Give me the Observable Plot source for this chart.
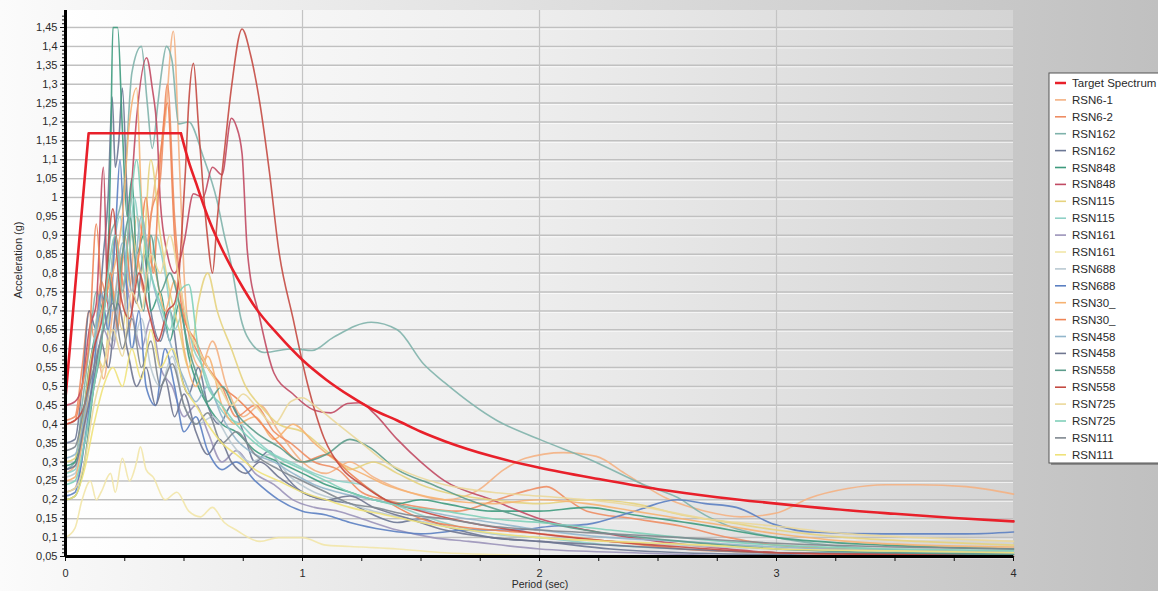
<!DOCTYPE html>
<html><head><meta charset="utf-8">
<script src="https://cdn.jsdelivr.net/npm/d3@7"></script>
<script src="https://cdn.jsdelivr.net/npm/@observablehq/plot@0.6"></script>
<style>html,body{margin:0;padding:0;background:#fff;overflow:hidden}svg{display:block}</style>
</head><body><div id="chart"></div>
<script>
// ---------------- data ----------------
const seriesNames = ["Target Spectrum","RSN6-1","RSN6-2","RSN162","RSN162","RSN848","RSN848","RSN115","RSN115","RSN161","RSN161","RSN688","RSN688","RSN30_","RSN30_","RSN458","RSN458","RSN558","RSN558","RSN725","RSN725","RSN111","RSN111"];
const seriesColors = ["#e8202a","#f4b183","#ee8d63","#7fb2ab","#6b7795","#3e9b7e","#c14a63","#e6d37e","#8fd0c6","#9b93b9","#f2e6a8","#b9c9d2","#5b80c2","#f6b272","#ef8455","#92b6cb","#6f7690","#5c9c8b","#c44a42","#ebd89a","#80d0b9","#7f878f","#efe27a"];
const yTicks = [0.05,0.1,0.15,0.2,0.25,0.3,0.35,0.4,0.45,0.5,0.55,0.6,0.65,0.7,0.75,0.8,0.85,0.9,0.95,1,1.05,1.1,1.15,1.2,1.25,1.3,1.35,1.4,1.45];
const xTicks = [0,1,2,3,4];
const xMinorTicks = [0,0.25,0.5,0.75,1,1.25,1.5,1.75,2,2.25,2.5,2.75,3,3.25,3.5,3.75,4];

// [period (s), acceleration (g)]
const targetRamp = [[0,0.47],[0.0975,1.17],[0.487,1.17]];
const targetDecay = [[0.487,1.17],[0.52,1.095],[0.55,1.04],[0.6,0.95],[0.65,0.877],[0.7,0.815],[0.75,0.76],[0.8,0.71],[0.9,0.635],[1.0,0.57],[1.1,0.518],[1.2,0.475],[1.3,0.438],[1.4,0.41],[1.5,0.38],[1.6,0.355],[1.8,0.315],[2.0,0.285],[2.25,0.255],[2.5,0.228],[2.75,0.207],[3.0,0.19],[3.25,0.175],[3.5,0.163],[3.75,0.152],[4.0,0.143]];
const rsn6_1 = [[0,0.27],[0.05,0.3],[0.08,0.42],[0.1,0.55],[0.13,0.6],[0.16,0.52],[0.2,0.7],[0.24,0.85],[0.27,0.75],[0.3,0.95],[0.34,0.88],[0.38,1.05],[0.42,1.2],[0.455,1.44],[0.48,1.1],[0.5,0.8],[0.53,0.6],[0.57,0.55],[0.62,0.62],[0.68,0.5],[0.75,0.42],[0.82,0.45],[0.9,0.38],[1.0,0.3],[1.1,0.27],[1.2,0.3],[1.3,0.26],[1.45,0.22],[1.6,0.2],[1.74,0.225],[1.85,0.28],[1.94,0.31],[2.1,0.325],[2.24,0.315],[2.36,0.27],[2.55,0.2],[2.7,0.17],[2.85,0.155],[3.0,0.165],[3.14,0.205],[3.3,0.23],[3.46,0.24],[3.6,0.24],[3.8,0.235],[4.0,0.215]];
const rsn6_2 = [[0,0.41],[0.04,0.42],[0.07,0.55],[0.1,0.7],[0.12,0.63],[0.15,0.78],[0.18,0.72],[0.21,0.9],[0.24,0.78],[0.27,0.65],[0.3,0.85],[0.33,0.75],[0.36,0.95],[0.4,1.05],[0.43,1.3],[0.46,0.95],[0.5,0.7],[0.55,0.6],[0.6,0.55],[0.66,0.5],[0.72,0.42],[0.8,0.45],[0.88,0.38],[0.95,0.35],[1.05,0.3],[1.15,0.28],[1.25,0.22],[1.35,0.2],[1.5,0.18],[1.65,0.17],[1.82,0.2],[1.95,0.225],[2.03,0.235],[2.12,0.2],[2.2,0.17],[2.4,0.15],[2.6,0.13],[2.8,0.1],[3.0,0.08],[3.3,0.07],[3.6,0.065],[4.0,0.06]];
const rsn162_1 = [[0,0.28],[0.04,0.3],[0.07,0.45],[0.1,0.6],[0.13,0.75],[0.16,0.7],[0.19,0.9],[0.22,0.95],[0.25,1.05],[0.28,1.33],[0.32,1.4],[0.345,1.25],[0.366,1.13],[0.39,1.25],[0.405,1.33],[0.426,1.4],[0.45,1.36],[0.477,1.195],[0.52,1.2],[0.58,1.11],[0.64,0.99],[0.67,0.9],[0.7,0.82],[0.74,0.68],[0.79,0.61],[0.84,0.59],[0.96,0.6],[1.04,0.595],[1.13,0.63],[1.29,0.67],[1.4,0.65],[1.51,0.56],[1.6,0.51],[1.82,0.41],[2.0,0.36],[2.2,0.31],[2.44,0.24],[2.6,0.2],[2.67,0.17],[2.8,0.13],[3.0,0.1],[3.3,0.075],[3.6,0.065],[4.0,0.06]];
const rsn162_2 = [[0,0.35],[0.04,0.36],[0.07,0.5],[0.1,0.7],[0.13,0.65],[0.16,0.85],[0.18,1.0],[0.197,1.266],[0.21,1.08],[0.225,1.15],[0.24,1.29],[0.26,1.0],[0.28,0.8],[0.3,0.72],[0.33,0.85],[0.36,0.7],[0.4,0.62],[0.44,0.7],[0.48,0.55],[0.52,0.48],[0.56,0.55],[0.6,0.45],[0.65,0.4],[0.7,0.45],[0.75,0.38],[0.8,0.3],[0.86,0.33],[0.92,0.27],[1.0,0.22],[1.1,0.2],[1.2,0.19],[1.3,0.16],[1.4,0.14],[1.5,0.15],[1.6,0.13],[1.8,0.1],[2.0,0.09],[2.3,0.07],[2.6,0.06],[3.0,0.055],[3.5,0.05],[4.0,0.05]];
const rsn848_1 = [[0,0.29],[0.04,0.3],[0.07,0.4],[0.1,0.55],[0.12,0.62],[0.15,0.7],[0.176,0.8],[0.19,1.1],[0.2,1.45],[0.22,1.45],[0.24,1.18],[0.26,0.95],[0.28,1.05],[0.3,0.85],[0.33,0.9],[0.36,0.7],[0.4,0.75],[0.44,0.62],[0.48,0.72],[0.52,0.58],[0.56,0.5],[0.6,0.45],[0.66,0.4],[0.72,0.38],[0.8,0.33],[0.9,0.3],[1.0,0.27],[1.1,0.24],[1.2,0.22],[1.3,0.2],[1.4,0.19],[1.5,0.2],[1.6,0.19],[1.8,0.17],[2.0,0.17],[2.2,0.18],[2.4,0.16],[2.67,0.135],[3.0,0.1],[3.46,0.08],[4.0,0.07]];
const rsn848_2 = [[0,0.45],[0.04,0.46],[0.07,0.5],[0.1,0.65],[0.13,0.72],[0.16,1.08],[0.18,0.7],[0.21,0.9],[0.24,0.75],[0.27,0.95],[0.3,1.21],[0.342,1.37],[0.366,1.29],[0.387,1.17],[0.4,0.99],[0.43,0.85],[0.46,0.8],[0.5,0.88],[0.54,1.01],[0.58,1.0],[0.62,1.08],[0.66,1.06],[0.7,1.21],[0.72,1.19],[0.745,1.116],[0.767,0.86],[0.82,0.68],[0.88,0.535],[0.96,0.48],[1.05,0.437],[1.12,0.43],[1.19,0.455],[1.245,0.457],[1.3,0.43],[1.4,0.36],[1.5,0.3],[1.6,0.25],[1.8,0.2],[2.0,0.15],[2.2,0.12],[2.5,0.09],[2.8,0.07],[3.0,0.06],[3.5,0.055],[4.0,0.05]];
const rsn115_1 = [[0,0.3],[0.04,0.31],[0.08,0.45],[0.12,0.6],[0.16,0.55],[0.2,0.75],[0.24,0.65],[0.28,0.9],[0.32,0.8],[0.36,1.1],[0.4,0.9],[0.44,0.75],[0.48,0.65],[0.52,0.55],[0.56,0.72],[0.6,0.8],[0.64,0.7],[0.7,0.6],[0.76,0.5],[0.82,0.45],[0.9,0.4],[1.0,0.38],[1.1,0.33],[1.2,0.28],[1.3,0.3],[1.4,0.27],[1.5,0.24],[1.6,0.22],[1.8,0.2],[2.0,0.19],[2.2,0.2],[2.4,0.19],[2.6,0.16],[2.8,0.14],[3.0,0.12],[3.3,0.1],[3.6,0.09],[4.0,0.08]];
const rsn115_2 = [[0,0.27],[0.04,0.28],[0.08,0.4],[0.11,0.55],[0.14,0.7],[0.17,0.65],[0.2,0.85],[0.23,0.95],[0.26,0.8],[0.29,1.0],[0.32,0.85],[0.35,0.75],[0.38,0.9],[0.42,0.8],[0.46,0.65],[0.5,0.7],[0.54,0.6],[0.58,0.55],[0.62,0.48],[0.68,0.42],[0.74,0.4],[0.8,0.36],[0.88,0.32],[0.95,0.3],[1.05,0.27],[1.15,0.25],[1.25,0.24],[1.35,0.2],[1.5,0.16],[1.65,0.13],[1.8,0.11],[2.0,0.1],[2.3,0.08],[2.6,0.07],[3.0,0.06],[3.5,0.06],[4.0,0.055]];
const rsn161_1 = [[0,0.22],[0.04,0.23],[0.08,0.35],[0.12,0.5],[0.16,0.65],[0.2,0.6],[0.24,0.8],[0.28,0.7],[0.32,0.6],[0.36,0.68],[0.4,0.55],[0.45,0.5],[0.5,0.42],[0.55,0.45],[0.6,0.38],[0.66,0.3],[0.72,0.33],[0.8,0.27],[0.88,0.24],[0.96,0.2],[1.05,0.18],[1.15,0.17],[1.25,0.15],[1.4,0.12],[1.55,0.1],[1.7,0.09],[2.0,0.07],[2.4,0.06],[3.0,0.05],[4.0,0.05]];
const rsn161_2 = [[0,0.1],[0.04,0.125],[0.07,0.2],[0.105,0.25],[0.13,0.2],[0.15,0.22],[0.19,0.27],[0.21,0.22],[0.24,0.31],[0.27,0.25],[0.3,0.3],[0.316,0.34],[0.34,0.28],[0.37,0.26],[0.42,0.2],[0.47,0.22],[0.52,0.17],[0.57,0.155],[0.62,0.18],[0.67,0.14],[0.72,0.12],[0.82,0.09],[0.9,0.1],[1.0,0.1],[1.1,0.08],[1.25,0.075],[1.4,0.07],[1.6,0.06],[1.8,0.055],[2.2,0.05],[3.0,0.05],[4.0,0.05]];
const rsn688_1 = [[0,0.26],[0.04,0.27],[0.08,0.38],[0.12,0.55],[0.16,0.7],[0.2,0.62],[0.24,0.75],[0.28,0.6],[0.32,0.68],[0.36,0.55],[0.4,0.5],[0.45,0.58],[0.5,0.45],[0.56,0.4],[0.62,0.42],[0.7,0.35],[0.78,0.3],[0.86,0.32],[0.95,0.26],[1.05,0.22],[1.15,0.2],[1.3,0.17],[1.45,0.15],[1.6,0.13],[1.8,0.11],[2.0,0.1],[2.3,0.09],[2.6,0.08],[3.0,0.07],[3.5,0.065],[4.0,0.06]];
const rsn688_2 = [[0,0.21],[0.04,0.22],[0.08,0.35],[0.12,0.55],[0.15,0.75],[0.18,0.65],[0.21,0.9],[0.23,1.1],[0.25,0.85],[0.28,0.6],[0.31,0.7],[0.34,0.5],[0.38,0.45],[0.42,0.6],[0.46,0.5],[0.5,0.38],[0.55,0.42],[0.6,0.33],[0.66,0.28],[0.72,0.3],[0.8,0.25],[0.9,0.2],[1.0,0.17],[1.1,0.16],[1.2,0.14],[1.35,0.12],[1.5,0.11],[1.7,0.12],[1.9,0.12],[2.05,0.13],[2.2,0.135],[2.4,0.17],[2.58,0.2],[2.7,0.19],[2.83,0.18],[2.99,0.135],[3.14,0.115],[3.46,0.11],[3.8,0.11],[4.0,0.115]];
const rsn30_1 = [[0,0.25],[0.04,0.26],[0.08,0.4],[0.12,0.6],[0.16,0.72],[0.2,0.8],[0.24,0.95],[0.27,1.2],[0.3,1.29],[0.32,1.0],[0.35,0.85],[0.38,0.8],[0.42,0.7],[0.46,0.78],[0.5,0.6],[0.55,0.5],[0.6,0.58],[0.66,0.45],[0.72,0.4],[0.8,0.42],[0.88,0.36],[0.96,0.4],[1.05,0.35],[1.15,0.3],[1.25,0.27],[1.35,0.24],[1.45,0.22],[1.6,0.2],[1.8,0.19],[2.0,0.2],[2.2,0.19],[2.4,0.17],[2.6,0.15],[2.8,0.13],[3.0,0.11],[3.3,0.09],[3.6,0.08],[4.0,0.075]];
const rsn30_2 = [[0,0.4],[0.04,0.41],[0.07,0.5],[0.1,0.62],[0.13,0.93],[0.16,0.7],[0.19,0.8],[0.22,0.65],[0.25,0.9],[0.28,0.75],[0.31,0.85],[0.34,1.0],[0.37,0.8],[0.4,1.1],[0.43,1.25],[0.46,0.9],[0.5,0.68],[0.55,0.62],[0.6,0.55],[0.66,0.5],[0.72,0.47],[0.8,0.42],[0.9,0.35],[1.0,0.3],[1.1,0.32],[1.2,0.27],[1.3,0.22],[1.4,0.18],[1.5,0.15],[1.65,0.13],[1.8,0.12],[2.0,0.11],[2.3,0.09],[2.6,0.07],[3.0,0.06],[3.5,0.055],[4.0,0.05]];
const rsn458_1 = [[0,0.31],[0.04,0.32],[0.08,0.42],[0.12,0.6],[0.16,0.75],[0.2,0.7],[0.24,0.88],[0.28,0.75],[0.32,0.95],[0.36,0.8],[0.4,0.7],[0.45,0.6],[0.5,0.52],[0.55,0.46],[0.6,0.5],[0.66,0.42],[0.72,0.36],[0.8,0.32],[0.88,0.3],[0.96,0.27],[1.05,0.24],[1.15,0.22],[1.3,0.2],[1.45,0.18],[1.6,0.16],[1.8,0.14],[2.0,0.12],[2.3,0.1],[2.6,0.09],[3.0,0.075],[3.5,0.065],[4.0,0.06]];
const rsn458_2 = [[0,0.28],[0.04,0.29],[0.08,0.4],[0.12,0.52],[0.15,0.62],[0.18,0.55],[0.22,0.72],[0.26,0.6],[0.3,0.5],[0.34,0.55],[0.38,0.45],[0.42,0.52],[0.46,0.42],[0.5,0.48],[0.55,0.38],[0.6,0.32],[0.65,0.36],[0.7,0.3],[0.76,0.27],[0.82,0.3],[0.9,0.26],[1.0,0.22],[1.1,0.2],[1.2,0.21],[1.3,0.18],[1.45,0.15],[1.6,0.12],[1.8,0.1],[2.0,0.09],[2.3,0.08],[2.6,0.07],[3.0,0.06],[4.0,0.055]];
const rsn558_1 = [[0,0.2],[0.04,0.21],[0.08,0.3],[0.12,0.5],[0.15,0.6],[0.18,0.8],[0.21,0.7],[0.24,0.85],[0.27,0.95],[0.3,0.8],[0.33,0.7],[0.36,0.9],[0.4,0.75],[0.44,0.8],[0.48,0.72],[0.52,0.6],[0.56,0.52],[0.6,0.46],[0.66,0.5],[0.72,0.43],[0.8,0.38],[0.9,0.34],[1.0,0.3],[1.1,0.32],[1.2,0.36],[1.28,0.34],[1.4,0.28],[1.55,0.24],[1.7,0.2],[1.9,0.16],[2.1,0.13],[2.3,0.11],[2.6,0.09],[3.0,0.07],[3.5,0.06],[4.0,0.055]];
const rsn558_2 = [[0,0.4],[0.04,0.41],[0.08,0.45],[0.12,0.6],[0.16,0.7],[0.2,0.97],[0.23,0.75],[0.27,0.68],[0.31,0.8],[0.35,0.7],[0.39,0.62],[0.43,0.7],[0.46,0.72],[0.478,0.79],[0.49,0.9],[0.506,1.07],[0.52,1.25],[0.54,1.355],[0.56,1.2],[0.58,1.03],[0.6,0.89],[0.62,0.8],[0.64,0.94],[0.67,1.12],[0.7,1.29],[0.745,1.446],[0.78,1.38],[0.82,1.25],[0.86,1.07],[0.9,0.86],[0.96,0.68],[1.02,0.51],[1.09,0.365],[1.17,0.28],[1.25,0.24],[1.35,0.2],[1.5,0.17],[1.7,0.14],[2.0,0.11],[2.3,0.09],[2.6,0.075],[3.0,0.06],[3.5,0.055],[4.0,0.05]];
const rsn725_1 = [[0,0.22],[0.04,0.23],[0.08,0.3],[0.12,0.45],[0.16,0.55],[0.2,0.65],[0.24,0.58],[0.28,0.75],[0.32,0.7],[0.36,0.85],[0.4,0.8],[0.44,0.9],[0.48,0.78],[0.52,0.65],[0.56,0.6],[0.6,0.55],[0.65,0.5],[0.7,0.45],[0.75,0.48],[0.8,0.45],[0.88,0.4],[0.95,0.46],[1.0,0.47],[1.05,0.45],[1.15,0.4],[1.25,0.35],[1.35,0.3],[1.45,0.27],[1.6,0.24],[1.8,0.22],[2.0,0.21],[2.2,0.2],[2.45,0.18],[2.7,0.15],[3.0,0.13],[3.3,0.11],[3.6,0.1],[4.0,0.09]];
const rsn725_2 = [[0,0.24],[0.04,0.25],[0.08,0.35],[0.12,0.5],[0.15,0.62],[0.18,0.8],[0.21,0.9],[0.24,0.75],[0.27,0.95],[0.3,1.1],[0.33,0.9],[0.36,0.8],[0.4,0.72],[0.44,0.65],[0.48,0.75],[0.52,0.77],[0.56,0.6],[0.6,0.5],[0.66,0.45],[0.72,0.4],[0.8,0.35],[0.9,0.31],[1.0,0.28],[1.1,0.25],[1.2,0.22],[1.3,0.2],[1.45,0.18],[1.6,0.17],[1.8,0.15],[2.0,0.14],[2.3,0.12],[2.6,0.1],[3.0,0.08],[3.5,0.07],[4.0,0.065]];
const rsn111_1 = [[0,0.33],[0.04,0.34],[0.08,0.45],[0.12,0.55],[0.16,0.65],[0.2,0.72],[0.24,0.6],[0.28,0.68],[0.32,0.55],[0.36,0.62],[0.4,0.5],[0.45,0.56],[0.5,0.45],[0.55,0.4],[0.6,0.43],[0.66,0.35],[0.72,0.38],[0.8,0.32],[0.9,0.28],[1.0,0.25],[1.1,0.22],[1.2,0.19],[1.3,0.18],[1.45,0.16],[1.6,0.15],[1.8,0.13],[2.0,0.12],[2.3,0.11],[2.6,0.1],[3.0,0.085],[3.5,0.075],[4.0,0.07]];
const rsn111_2 = [[0,0.2],[0.04,0.21],[0.08,0.28],[0.12,0.4],[0.16,0.5],[0.2,0.55],[0.24,0.5],[0.28,0.6],[0.32,0.52],[0.36,0.65],[0.4,0.55],[0.45,0.6],[0.5,0.5],[0.55,0.45],[0.6,0.4],[0.66,0.35],[0.72,0.32],[0.8,0.28],[0.9,0.25],[1.0,0.22],[1.1,0.2],[1.2,0.18],[1.35,0.16],[1.5,0.14],[1.7,0.12],[2.0,0.1],[2.3,0.09],[2.7,0.08],[3.0,0.07],[3.5,0.065],[4.0,0.06]];

const recordData = [rsn6_1,rsn6_2,rsn162_1,rsn162_2,rsn848_1,rsn848_2,rsn115_1,rsn115_2,rsn161_1,rsn161_2,rsn688_1,rsn688_2,rsn30_1,rsn30_2,rsn458_1,rsn458_2,rsn558_1,rsn558_2,rsn725_1,rsn725_2,rsn111_1,rsn111_2];

// ---------------- chart ----------------
const W = 1158, H = 591;
const FONT = "'Liberation Sans', Arial, sans-serif";
const fmt = d => String(d).replace(".", ",");

function background() {
  return (index, scales, values, dims) => {
    const g = d3.create("svg:g");
    const defs = g.append("defs");
    const go = defs.append("linearGradient").attr("id","bgOuter").attr("x1","0").attr("x2","1").attr("y1","0").attr("y2","0");
    go.append("stop").attr("offset","0").attr("stop-color","#fbfbfb");
    go.append("stop").attr("offset","1").attr("stop-color","#c0c0c0");
    const gi = defs.append("linearGradient").attr("id","bgInner").attr("x1","0").attr("x2","1").attr("y1","0").attr("y2","0");
    gi.append("stop").attr("offset","0").attr("stop-color","#ffffff");
    gi.append("stop").attr("offset","0.5").attr("stop-color","#ededed");
    gi.append("stop").attr("offset","1").attr("stop-color","#d4d4d4");
    g.append("rect").attr("x",0).attr("y",0).attr("width",dims.width).attr("height",dims.height).attr("fill","url(#bgOuter)");
    g.append("rect").attr("x",dims.marginLeft).attr("y",dims.marginTop)
      .attr("width",dims.width-dims.marginLeft-dims.marginRight)
      .attr("height",dims.height-dims.marginTop-dims.marginBottom).attr("fill","url(#bgInner)");
    return g.node();
  };
}

function decorations() {
  return (index, scales, values, dims) => {
    const g = d3.create("svg:g").attr("font-family", FONT).attr("font-size", 11).attr("fill", "#2a2a2a").attr("text-anchor", "start");
    g.append("text").attr("transform", "translate(22,260) rotate(-90)").attr("text-anchor","middle").text("Acceleration (g)");
    g.append("text").attr("x", 540).attr("y", 588).attr("font-size", 10.5).attr("text-anchor","middle").text("Period (sec)");
    const lx = 1049, ly = 73, lh = 390;
    g.append("rect").attr("x", lx+2).attr("y", ly+2).attr("width", 130).attr("height", lh).attr("fill", "#8a8a8a");
    g.append("rect").attr("x", lx).attr("y", ly).attr("width", 130).attr("height", lh).attr("fill", "#fff").attr("stroke", "#555").attr("stroke-width", 1);
    seriesNames.forEach((n, i) => {
      const y = 83 + i * 16.9;
      g.append("line").attr("x1", lx+6).attr("x2", lx+17).attr("y1", y).attr("y2", y)
        .attr("stroke", seriesColors[i]).attr("stroke-width", i === 0 ? 2.5 : 1.6);
      g.append("text").attr("x", lx+23).attr("y", y+4).attr("font-size", 11.5).attr("text-anchor", "start").text(n);
    });
    return g.node();
  };
}

const seriesMarks = recordData.map((pts, i) =>
  Plot.line(pts, {x: d => d[0], y: d => d[1], stroke: seriesColors[i + 1], strokeWidth: 1.6, strokeOpacity: 0.9, curve: "monotone-x"}));
seriesMarks.push(Plot.line(targetRamp, {x: d => d[0], y: d => d[1], stroke: seriesColors[0], strokeWidth: 2.6, curve: "linear"}));
seriesMarks.push(Plot.line(targetDecay, {x: d => d[0], y: d => d[1], stroke: seriesColors[0], strokeWidth: 2.6, curve: "monotone-x"}));

const plot = Plot.plot({
  width: W, height: H,
  marginLeft: 65, marginRight: 145, marginTop: 10, marginBottom: 35,
  style: {fontFamily: FONT, fontSize: "11px", color: "#2a2a2a", background: "transparent"},
  x: {domain: [0, 4]},
  y: {domain: [0.05, 1.495]},
  marks: [
    background(),
    Plot.ruleY(yTicks, {stroke: "#c0c0c0", strokeWidth: 1.5}),
    Plot.ruleY(yTicks, {stroke: "#ffffff", strokeWidth: 1, dy: 1.5, strokeOpacity: 0.7}),
    Plot.ruleX([1, 2, 3], {stroke: "#c4c4c4", strokeWidth: 1.2}),
    ...seriesMarks,
    Plot.axisY({ticks: d3.range(0.05, 1.49, 0.01), tickSize: 3, tickFormat: () => "", label: null, stroke: "#111"}),
    Plot.axisY({ticks: yTicks, tickSize: 5, tickPadding: 3, tickFormat: fmt, label: null, stroke: "#111", fontSize: 11}),
    Plot.axisX({ticks: xMinorTicks, tickSize: 5, tickFormat: () => "", label: null, stroke: "#111"}),
    Plot.axisX({ticks: xTicks, tickSize: 5, tickPadding: 8, tickFormat: fmt, label: null, stroke: "#111", fontSize: 11}),
    Plot.ruleX([0], {stroke: "#000", strokeWidth: 3}),
    Plot.ruleY([0.05], {stroke: "#000", strokeWidth: 3}),
    decorations()
  ]
});
document.getElementById("chart").appendChild(plot);
</script>
</body></html>
